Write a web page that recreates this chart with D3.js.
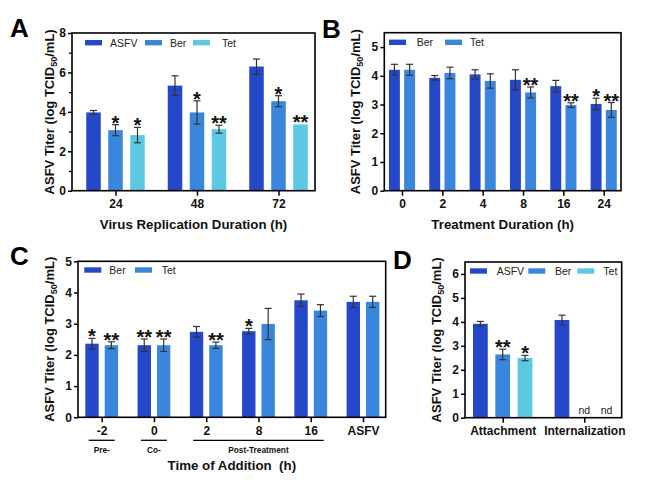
<!DOCTYPE html>
<html><head><meta charset="utf-8">
<script src="https://cdn.jsdelivr.net/npm/d3@7"></script>
<style>
body{margin:0;background:#fff}
svg{display:block;font-family:"Liberation Sans",Arial,sans-serif}
</style>
</head><body>
<svg id="chart" width="669" height="495"></svg>
<script>
// ---------- DATA ----------
// Panel A: virus replication duration
const aCategories = ["24", "48", "72"];
const aSeries = ["ASFV", "Ber", "Tet"];
const aASFV = [3.97, 5.33, 6.30], aASFVErr = [0.10, 0.50, 0.38], aASFVSig = ["", "", ""];
const aBer  = [3.07, 3.97, 4.54], aBerErr  = [0.28, 0.59, 0.28], aBerSig  = ["*", "*", "*"];
const aTet  = [2.82, 3.12, 3.36], aTetErr  = [0.39, 0.20, 0.00], aTetSig  = ["*", "**", "**"];
const aYTicks = [0, 2, 4, 6, 8], aYMinor = [1, 3, 5, 7];

// Panel B: treatment duration
const bCategories = ["0", "2", "4", "8", "16", "24"];
const bSeries = ["Ber", "Tet"];
const bBer = [4.21, 3.93, 4.05, 3.86, 3.64, 3.02], bBerErr = [0.19, 0.08, 0.16, 0.35, 0.20, 0.20], bBerSig = ["", "", "", "", "", "*"];
const bTet = [4.21, 4.10, 3.82, 3.42, 2.98, 2.81], bTetErr = [0.19, 0.20, 0.25, 0.19, 0.08, 0.26], bTetSig = ["", "", "", "**", "**", "**"];
const bYTicks = [0, 1, 2, 3, 4, 5];

// Panel C: time of addition
const cCategories = ["-2", "0", "2", "8", "16", "ASFV"];
const cSeries = ["Ber", "Tet"];
const cBer = [2.36, 2.31, 2.74, 2.76, 3.75, 3.70], cBerErr = [0.17, 0.20, 0.17, 0.09, 0.20, 0.18], cBerSig = ["*", "**", "", "*", "", ""];
const cTet = [2.31, 2.31, 2.31, 2.99, 3.42, 3.70], cTetErr = [0.11, 0.20, 0.10, 0.50, 0.19, 0.18], cTetSig = ["**", "**", "**", "", "", ""];
const cYTicks = [0, 1, 2, 3, 4, 5];
const cStages = [
  {label: "Pre-", from: "-2", to: "-2"},
  {label: "Co-", from: "0", to: "0"},
  {label: "Post-Treatment", from: "2", to: "16"}
];

// Panel D: attachment / internalization
const dCategories = ["Attachment", "Internalization"];
const dSeries = ["ASFV", "Ber", "Tet"];
const dASFV = [3.92, 4.08], dASFVErr = [0.10, 0.20], dASFVSig = ["", ""];
const dBer  = [2.64, null], dBerErr  = [0.22, null], dBerSig  = ["**", "nd"];
const dTet  = [2.49, null], dTetErr  = [0.11, null], dTetSig  = ["*", "nd"];
const dYTicks = [0, 1, 2, 3, 4, 5, 6];

const yTitle = ["ASFV Titer (log TCID", "50", "/mL)"];

// ---------- STYLE ----------
const COL = {ASFV: "#2448c8", Ber: "#3a86dc", Tet: "#5cc8e2"};
const COLB = {Ber: "#2448c8", Tet: "#3a86dc"};
const ERR = "#333";

const svg = d3.select("#chart");
svg.append("rect").attr("width", 669).attr("height", 495).attr("fill", "#fff");

function drawPanel(p) {
  const g = svg.append("g");
  const y = d3.scaleLinear().domain([0, p.ymax]).range([p.bottom, p.top]);
  const x = d3.scalePoint().domain(p.cats).range([p.c0, p.c1]);
  const xs = d3.scaleBand().domain(p.series.map(s => s.name))
    .range([-p.half, p.half]).paddingInner(p.pad).paddingOuter(p.pad / 2);
  const bw = xs.bandwidth();

  p.series.forEach(s => {
    const d = p.cats.map((c, i) => ({c, v: s.vals[i], e: s.errs[i], sig: s.sigs[i]}));
    const cx = o => x(o.c) + xs(s.name) + bw / 2;
    const withVal = d.filter(o => o.v != null);
    g.selectAll(null).data(withVal).join("rect")
      .attr("x", o => x(o.c) + xs(s.name)).attr("width", bw)
      .attr("y", o => y(o.v)).attr("height", o => y(0) - y(o.v))
      .attr("fill", s.color);
    const withErr = withVal.filter(o => o.e > 0);
    g.selectAll(null).data(withErr).join("line")
      .attr("x1", cx).attr("x2", cx)
      .attr("y1", o => y(o.v + o.e)).attr("y2", o => y(o.v - o.e))
      .attr("stroke", ERR).attr("stroke-width", 1.2);
    [1, -1].forEach(sg => {
      g.selectAll(null).data(withErr).join("line")
        .attr("x1", o => cx(o) - 3.5).attr("x2", o => cx(o) + 3.5)
        .attr("y1", o => y(o.v + sg * o.e)).attr("y2", o => y(o.v + sg * o.e))
        .attr("stroke", ERR).attr("stroke-width", 1.2);
    });
    // significance marks
    g.selectAll(null).data(withVal.filter(o => o.sig && o.sig !== "nd")).join("text")
      .attr("x", cx).attr("y", o => y(o.v + (o.e || 0)) + 5)
      .attr("text-anchor", "middle").attr("font-size", 20).attr("font-weight", "bold")
      .attr("fill", "#111").text(o => o.sig);
    g.selectAll(null).data(d.filter(o => o.sig === "nd")).join("text")
      .attr("x", cx).attr("y", y(0) - 4)
      .attr("text-anchor", "middle").attr("font-size", 10.5)
      .attr("fill", "#222").text("nd");
  });

  // frame
  g.append("rect").attr("x", p.left).attr("y", p.top)
    .attr("width", p.right - p.left).attr("height", p.bottom - p.top)
    .attr("fill", "none").attr("stroke", "#000").attr("stroke-width", 1.6);

  // y axis
  const ya = g.append("g").attr("transform", `translate(${p.left},0)`)
    .call(d3.axisLeft(y).tickValues(p.yTicks).tickSize(4).tickPadding(2).tickFormat(d3.format("d")));
  ya.select(".domain").remove();
  ya.selectAll(".tick line").attr("stroke", "#000").attr("stroke-width", 1.5);
  ya.selectAll(".tick text").attr("font-size", 12).attr("font-weight", "bold")
    .attr("font-family", "Liberation Sans, Arial, sans-serif").attr("fill", "#111");
  if (p.yMinor) {
    const ym = g.append("g").attr("transform", `translate(${p.left},0)`)
      .call(d3.axisLeft(y).tickValues(p.yMinor).tickSize(3).tickFormat(""));
    ym.select(".domain").remove();
    ym.selectAll(".tick line").attr("stroke", "#000").attr("stroke-width", 1.3);
  }

  // x axis
  const xa = g.append("g").attr("transform", `translate(0,${p.bottom})`)
    .call(d3.axisBottom(x).tickSize(5).tickPadding(p.xPad || 4));
  xa.select(".domain").remove();
  xa.selectAll(".tick line").attr("stroke", "#000").attr("stroke-width", 1.5);
  xa.selectAll(".tick text").attr("font-size", 12).attr("font-weight", "bold")
    .attr("font-family", "Liberation Sans, Arial, sans-serif").attr("fill", "#111");

  // y title
  const yt = g.append("text")
    .attr("transform", `translate(${p.ytx},${(p.top + p.bottom) / 2}) rotate(-90)`)
    .attr("text-anchor", "middle").attr("font-size", 13).attr("font-weight", "bold").attr("fill", "#111");
  yt.append("tspan").text(yTitle[0]);
  yt.append("tspan").attr("font-size", 9).attr("dy", 3).text(yTitle[1]);
  yt.append("tspan").attr("dy", -3).text(yTitle[2]);

  // x title
  if (p.xTitle) {
    g.append("text").attr("x", (p.left + p.right) / 2).attr("y", p.xty)
      .attr("text-anchor", "middle").attr("font-size", 13.3).attr("font-weight", "bold")
      .style("white-space", "pre").attr("fill", "#111").text(p.xTitle);
  }

  // legend
  p.legend.forEach((L, i) => {
    g.append("rect").attr("x", L.x).attr("y", p.legY - 2.7).attr("width", 17).attr("height", 5.4)
      .attr("fill", p.series[i].color);
    g.append("text").attr("x", L.tx).attr("y", p.legY + 4).attr("font-size", 10.5)
      .attr("fill", "#222").text(p.series[i].name);
  });

  // panel letter
  g.append("text").attr("x", p.letterX).attr("y", p.letterY).attr("font-size", 26)
    .attr("font-weight", "bold").attr("fill", "#000").text(p.letter);

  return {x, y, g};
}

drawPanel({
  letter: "A", letterX: 10, letterY: 37,
  left: 72, right: 315, top: 33, bottom: 190.7, ymax: 8,
  yTicks: aYTicks, yMinor: aYMinor,
  cats: aCategories, c0: 115.5, c1: 278.5, half: 33, pad: 0.34,
  series: [
    {name: aSeries[0], color: COL.ASFV, vals: aASFV, errs: aASFVErr, sigs: aASFVSig},
    {name: aSeries[1], color: COL.Ber, vals: aBer, errs: aBerErr, sigs: aBerSig},
    {name: aSeries[2], color: COL.Tet, vals: aTet, errs: aTetErr, sigs: aTetSig}
  ],
  legY: 42.7, legend: [{x: 85, tx: 110}, {x: 145, tx: 170}, {x: 193, tx: 222}],
  ytx: 54, xTitle: "Virus Replication Duration (h)", xty: 229
});

drawPanel({
  letter: "B", letterX: 322, letterY: 38,
  left: 384.3, right: 621, top: 32.7, bottom: 190.7, ymax: 5.5,
  yTicks: bYTicks,
  cats: bCategories, c0: 402, c1: 603.7, half: 15.2, pad: 0.28,
  series: [
    {name: bSeries[0], color: COLB.Ber, vals: bBer, errs: bBerErr, sigs: bBerSig},
    {name: bSeries[1], color: COLB.Tet, vals: bTet, errs: bTetErr, sigs: bTetSig}
  ],
  legY: 42.3, legend: [{x: 389, tx: 416.7}, {x: 445, tx: 470}],
  ytx: 360, xTitle: "Treatment Duration (h)", xty: 229
});

const C = drawPanel({
  letter: "C", letterX: 10, letterY: 265,
  left: 78, right: 385.7, top: 261.3, bottom: 417.3, ymax: 5,
  yTicks: cYTicks,
  cats: cCategories, c0: 101.7, c1: 363, half: 19.4, pad: 0.31,
  series: [
    {name: cSeries[0], color: COLB.Ber, vals: cBer, errs: cBerErr, sigs: cBerSig},
    {name: cSeries[1], color: COLB.Tet, vals: cTet, errs: cTetErr, sigs: cTetSig}
  ],
  legY: 270, legend: [{x: 84.3, tx: 109.3}, {x: 135, tx: 161.7}],
  ytx: 54, xTitle: "Time of Addition  (h)", xty: 470
});
// stage underlines for panel C
cStages.forEach(s => {
  const x0 = C.x(s.from) - 13, x1 = C.x(s.to) + 13;
  C.g.append("line").attr("x1", x0).attr("x2", x1).attr("y1", 440.3).attr("y2", 440.3)
    .attr("stroke", "#000").attr("stroke-width", 1.3);
  C.g.append("text").attr("x", (x0 + x1) / 2).attr("y", 453).attr("text-anchor", "middle")
    .attr("font-size", 8.3).attr("font-weight", "bold").attr("fill", "#111").text(s.label);
});

drawPanel({
  letter: "D", letterX: 393, letterY: 269,
  left: 465, right: 621.7, top: 262, bottom: 417.7, ymax: 6.5,
  yTicks: dYTicks,
  cats: dCategories, c0: 502.7, c1: 584.3, half: 33.5, pad: 0.34,
  series: [
    {name: dSeries[0], color: COL.ASFV, vals: dASFV, errs: dASFVErr, sigs: dASFVSig},
    {name: dSeries[1], color: COL.Ber, vals: dBer, errs: dBerErr, sigs: dBerSig},
    {name: dSeries[2], color: COL.Tet, vals: dTet, errs: dTetErr, sigs: dTetSig}
  ],
  legY: 271, legend: [{x: 470, tx: 496.7}, {x: 528.3, tx: 555}, {x: 577.3, tx: 603.3}],
  ytx: 441, xTitle: null
});
</script>
</body></html>
